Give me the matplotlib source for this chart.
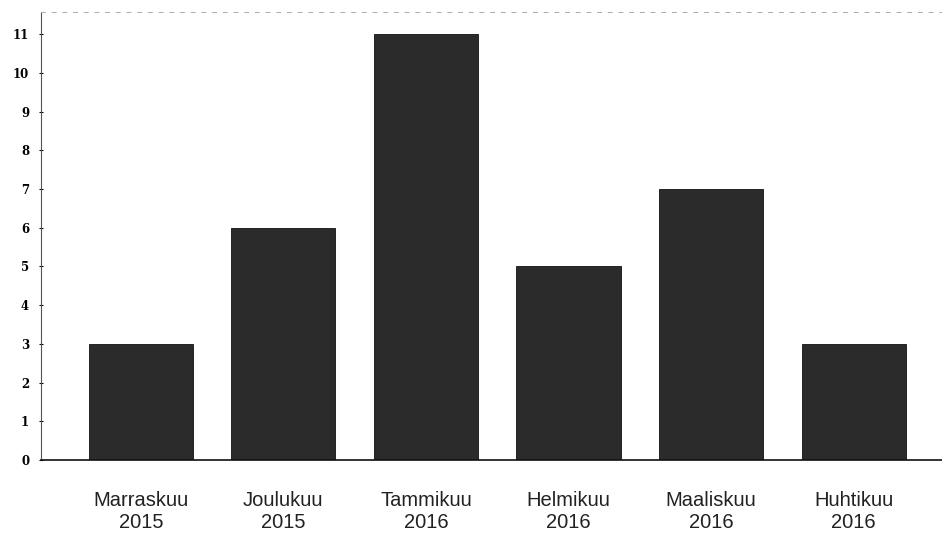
import matplotlib
matplotlib.use("Agg")
import matplotlib.pyplot as plt

# kuukausittaiset määrät
months = ["Marraskuu\n2015", "Joulukuu\n2015", "Tammikuu\n2016",
          "Helmikuu\n2016", "Maaliskuu\n2016", "Huhtikuu\n2016"]
counts = [3, 6, 11, 5, 7, 3]
yticks = list(range(0, 12))

fig = plt.figure(figsize=(9.42, 5.39), dpi=100)
ax = fig.add_axes([0.0435, 0.1466, 0.9565, 0.8311])

ax.bar(range(len(months)), counts, width=0.73, color="#2b2b2b", edgecolor="#111111", linewidth=0.6)

ax.set_xlim(-0.7, 5.62)
ax.set_ylim(0, 11.57)
ax.set_yticks(yticks)
ax.set_yticklabels([str(v) for v in yticks], family="DejaVu Serif",
                   fontsize=8.5, fontweight="bold")
ax.set_xticks(range(len(months)))
ax.set_xticklabels(months, family="Liberation Sans", fontsize=14.5,
                   color="#222222", linespacing=1.25)
ax.tick_params(axis="x", length=0, pad=22)
ax.tick_params(axis="y", length=3, width=0.8, pad=7, direction="inout")

ax.spines["right"].set_visible(False)
ax.spines["top"].set_linestyle((0, (4, 7)))
ax.spines["top"].set_color("#aaaaaa")
ax.spines["top"].set_linewidth(0.7)
ax.spines["left"].set_color("#555555")
ax.spines["bottom"].set_color("#111111")
ax.spines["bottom"].set_linewidth(1.2)

fig.savefig("out.png", dpi=100)
